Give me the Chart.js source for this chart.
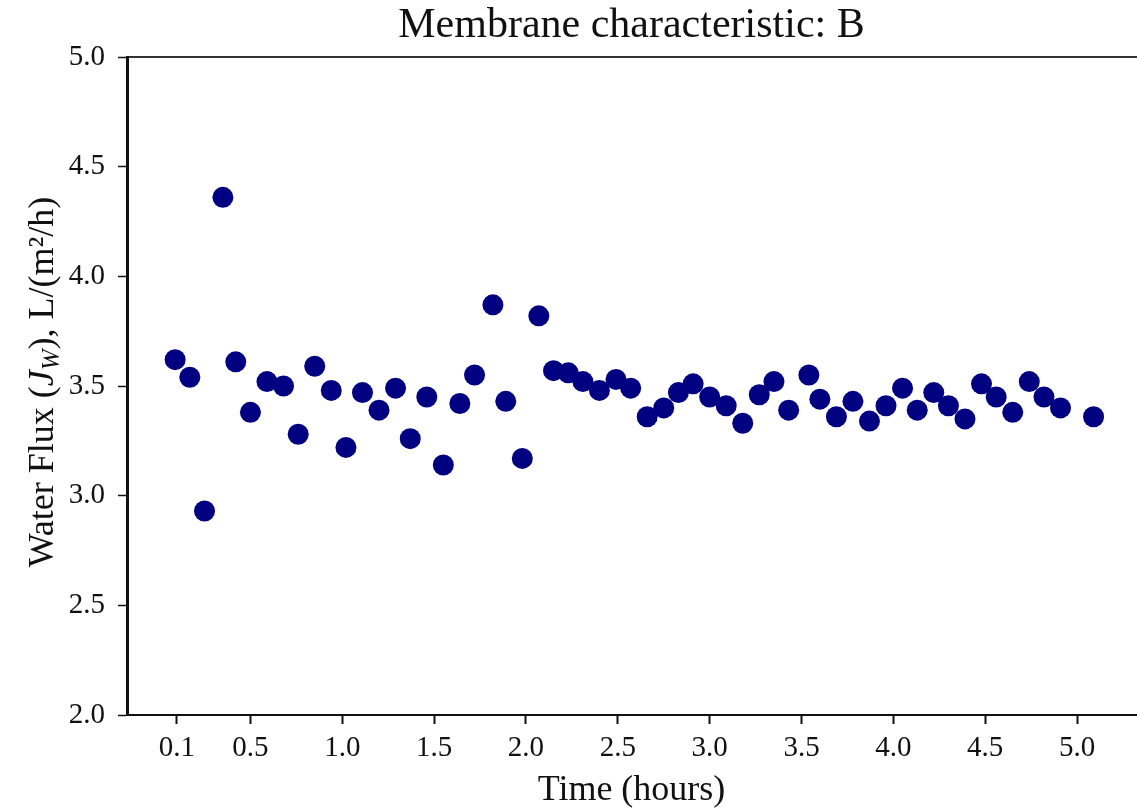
<!DOCTYPE html>
<html>
<head>
<meta charset="utf-8">
<script src="https://cdn.jsdelivr.net/npm/chart.js@4.4.1/dist/chart.umd.min.js"></script>
<style>
  html, body { margin: 0; padding: 0; background: #ffffff; }
  #wrap { width: 1137px; height: 809px; position: relative; }
</style>
</head>
<body>
<div id="wrap"><canvas id="c"></canvas></div>
<script>
// ---- data ----
const timeHours = [0.09, 0.17, 0.25, 0.35, 0.42, 0.50, 0.59, 0.68, 0.76, 0.85,
                   0.94, 1.02, 1.11, 1.20, 1.29, 1.37, 1.46, 1.55, 1.64, 1.72,
                   1.82, 1.89, 1.98, 2.07, 2.15, 2.23, 2.31, 2.40, 2.49, 2.57,
                   2.66, 2.75, 2.83, 2.91, 3.00, 3.09, 3.18, 3.27, 3.35, 3.43,
                   3.54, 3.60, 3.69, 3.78, 3.87, 3.96, 4.05, 4.13, 4.22, 4.30,
                   4.39, 4.48, 4.56, 4.65, 4.74, 4.82, 4.91, 5.09];
const waterFlux = [3.62, 3.54, 2.93, 4.36, 3.61, 3.38, 3.52, 3.50, 3.28, 3.59,
                   3.48, 3.22, 3.47, 3.39, 3.49, 3.26, 3.45, 3.14, 3.42, 3.55,
                   3.87, 3.43, 3.17, 3.82, 3.57, 3.56, 3.52, 3.48, 3.53, 3.49,
                   3.36, 3.40, 3.47, 3.51, 3.45, 3.41, 3.33, 3.46, 3.52, 3.39,
                   3.55, 3.44, 3.36, 3.43, 3.34, 3.41, 3.49, 3.39, 3.47, 3.41,
                   3.35, 3.51, 3.45, 3.38, 3.52, 3.45, 3.40, 3.36];
const xTickValues = [0.1, 0.5, 1.0, 1.5, 2.0, 2.5, 3.0, 3.5, 4.0, 4.5, 5.0];
const yTickValues = [2.0, 2.5, 3.0, 3.5, 4.0, 4.5, 5.0];
const titleText = 'Membrane characteristic: B';
const xTitleText = 'Time (hours)';
const yTitleParts = [
  { t: 'Water Flux (', style: 'normal' },
  { t: 'J', style: 'italic' },
  { t: 'W', style: 'italic', sub: true },
  { t: '), L/(m\u00B2/h)', style: 'normal' }
];

const FONT = '"Liberation Serif", "Times New Roman", "DejaVu Serif", serif';
const INK = '#111111';

const points = timeHours.map((t, i) => ({ x: t, y: waterFlux[i] }));

const yTitlePlugin = {
  id: 'yTitleRich',
  afterDraw(chart) {
    const ctx = chart.ctx;
    const area = chart.chartArea;
    const size = 36;
    const cy = (area.top + area.bottom) / 2 - 4;
    const bx = 53;
    ctx.save();
    ctx.fillStyle = INK;
    ctx.textBaseline = 'alphabetic';
    ctx.textAlign = 'left';
    const fontFor = p => (p.style === 'italic' ? 'italic ' : '') + (p.sub ? Math.round(size * 0.7) : size) + 'px ' + FONT;
    let total = 0;
    const widths = yTitleParts.map(p => { ctx.font = fontFor(p); const w = ctx.measureText(p.t).width; total += w; return w; });
    ctx.translate(bx, cy);
    ctx.rotate(-Math.PI / 2);
    let x = -total / 2;
    yTitleParts.forEach((p, i) => {
      ctx.font = fontFor(p);
      ctx.fillText(p.t, x, p.sub ? size * 0.18 : 0);
      x += widths[i];
    });
    ctx.restore();
  }
};

new Chart(document.getElementById('c'), {
  type: 'scatter',
  data: {
    datasets: [{
      data: points,
      backgroundColor: '#000080',
      borderColor: '#000080',
      borderWidth: 0,
      pointRadius: 10.5,
      pointHoverRadius: 10.5
    }]
  },
  options: {
    responsive: true,
    maintainAspectRatio: false,
    animation: false,
    layout: { autoPadding: false, padding: { left: 0, right: 1, top: 0, bottom: 0 } },
    plugins: {
      legend: { display: false },
      tooltip: { enabled: false },
      title: { display: false }
    },
    scales: {
      x: {
        type: 'linear',
        position: 'bottom',
        min: -0.172,
        max: 5.321,
        afterBuildTicks: s => { s.ticks = xTickValues.map(v => ({ value: v })); },
        afterFit: s => { s.height = 94; },
        ticks: {
          color: INK,
          font: { family: FONT, size: 29 },
          padding: 7,
          maxRotation: 0,
          autoSkip: false,
          callback: v => Number(v).toFixed(1)
        },
        grid: { display: true, drawOnChartArea: false, drawTicks: true, tickLength: 9, tickWidth: 2, tickColor: INK },
        border: { display: true, color: INK, width: 2 },
        title: {
          display: true,
          text: xTitleText,
          color: INK,
          font: { family: FONT, size: 36, lineHeight: 1 },
          padding: { top: 0, bottom: 0 }
        }
      },
      x2: {
        type: 'linear',
        position: 'top',
        min: -0.172,
        max: 5.321,
        afterFit: s => { s.height = 57; },
        ticks: { display: false },
        grid: { display: false },
        border: { display: true, color: '#333333', width: 2 },
        title: {
          display: true,
          text: titleText,
          color: INK,
          font: { family: FONT, size: 42, lineHeight: 1 },
          padding: { top: 5, bottom: 0 }
        }
      },
      y: {
        type: 'linear',
        position: 'left',
        min: 2.0,
        max: 5.0,
        afterBuildTicks: s => { s.ticks = yTickValues.map(v => ({ value: v })); },
        afterFit: s => { s.width = 127; },
        ticks: {
          color: INK,
          font: { family: FONT, size: 29 },
          padding: 13,
          autoSkip: false,
          callback: v => Number(v).toFixed(1)
        },
        grid: { display: true, drawOnChartArea: false, drawTicks: true, tickLength: 9, tickWidth: 1.5, tickColor: INK },
        border: { display: true, color: INK, width: 3 }
      }
    }
  },
  plugins: [yTitlePlugin]
});
</script>
</body>
</html>
